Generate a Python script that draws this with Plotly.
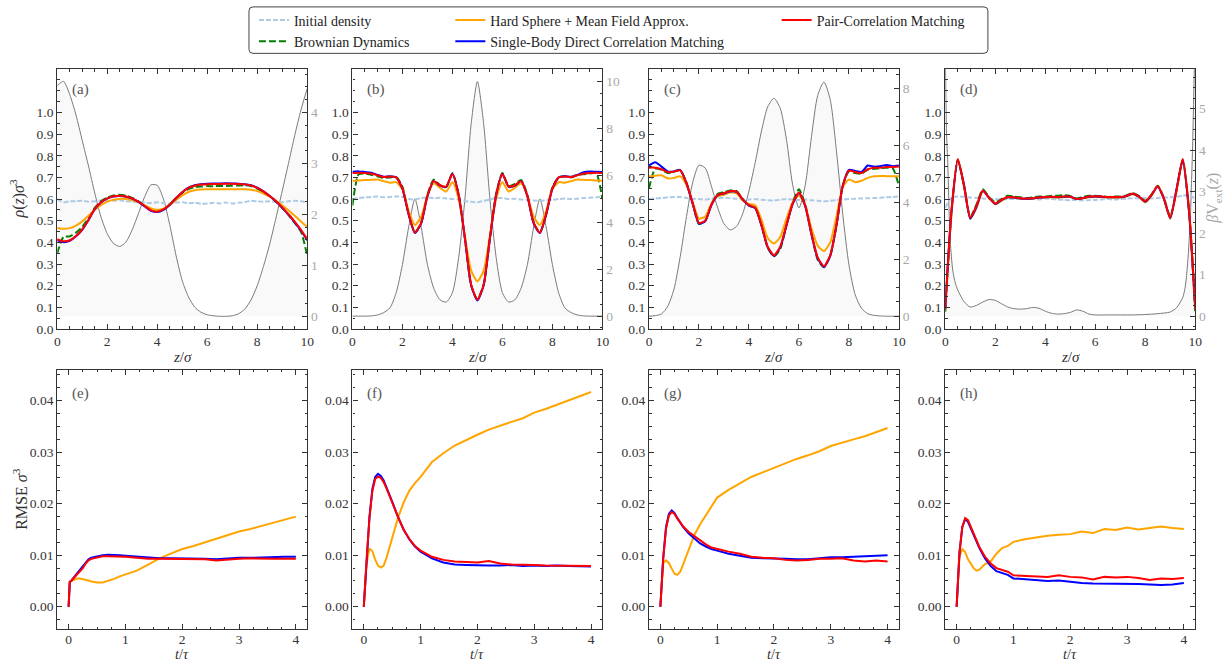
import plotly.graph_objects as go

W, H = 1229, 671

# ---------------- data: density profiles (z / sigma) ----------------
z = [0, 0.25, 0.5, 0.75, 1.0, 1.25, 1.5, 1.75, 2.0, 2.25,
     2.5, 2.75, 3.0, 3.25, 3.5, 3.75, 4.0, 4.25, 4.5, 4.75,
     5.0, 5.25, 5.5, 5.75, 6.0, 6.25, 6.5, 6.75, 7.0, 7.25,
     7.5, 7.75, 8.0, 8.25, 8.5, 8.75, 9.0, 9.25, 9.5, 9.75,
     10.0]

# panel (a)
a_init = [0.60, 0.585, 0.59, 0.59, 0.592, 0.588, 0.59, 0.593, 0.59, 0.592,
          0.595, 0.59, 0.588, 0.585, 0.583, 0.582, 0.585, 0.582, 0.58, 0.584,
          0.586, 0.581, 0.583, 0.579, 0.58, 0.583, 0.58, 0.584, 0.58, 0.583,
          0.586, 0.592, 0.59, 0.588, 0.59, 0.588, 0.585, 0.59, 0.592, 0.59,
          0.585]
a_bd = [0.35, 0.425, 0.428, 0.445, 0.472, 0.513, 0.56, 0.59, 0.607, 0.617,
        0.62, 0.616, 0.606, 0.59, 0.57, 0.55, 0.543, 0.553, 0.576, 0.604,
        0.628, 0.646, 0.655, 0.658, 0.66, 0.659, 0.661, 0.66, 0.662, 0.663,
        0.664, 0.66, 0.648, 0.632, 0.612, 0.588, 0.56, 0.527, 0.49, 0.45,
        0.34]
a_hs = [0.467, 0.463, 0.466, 0.478, 0.497, 0.523, 0.55, 0.572, 0.588, 0.597,
        0.601, 0.6, 0.595, 0.585, 0.571, 0.557, 0.551, 0.556, 0.572, 0.595,
        0.617, 0.633, 0.641, 0.644, 0.645, 0.645, 0.645, 0.645, 0.645, 0.645,
        0.645, 0.643, 0.637, 0.626, 0.611, 0.593, 0.572, 0.548, 0.523, 0.497,
        0.472]
a_sb = [0.41, 0.401, 0.407, 0.428, 0.458, 0.503, 0.553, 0.584, 0.602, 0.612,
        0.614, 0.611, 0.602, 0.587, 0.566, 0.546, 0.54, 0.55, 0.573, 0.604,
        0.632, 0.653, 0.664, 0.669, 0.671, 0.672, 0.672, 0.673, 0.672, 0.671,
        0.669, 0.664, 0.653, 0.636, 0.614, 0.589, 0.56, 0.528, 0.493, 0.455,
        0.41]
a_pc = [0.415, 0.405, 0.41, 0.43, 0.46, 0.505, 0.555, 0.585, 0.603, 0.613,
        0.615, 0.612, 0.603, 0.588, 0.568, 0.548, 0.542, 0.552, 0.575, 0.605,
        0.632, 0.652, 0.662, 0.667, 0.669, 0.67, 0.67, 0.671, 0.671, 0.67,
        0.668, 0.663, 0.652, 0.636, 0.614, 0.59, 0.562, 0.53, 0.496, 0.458,
        0.415]
a_vext = [4.53, 4.61, 4.35, 3.95, 3.45, 2.95, 2.42, 1.95, 1.62, 1.43,
          1.37, 1.46, 1.7, 2.02, 2.35, 2.58, 2.57, 2.3, 1.8, 1.2,
          0.7, 0.38, 0.18, 0.08, 0.03, 0.01, 0.0, 0.0, 0.01, 0.05,
          0.14, 0.32, 0.6, 0.98, 1.42, 1.93, 2.46, 3.0, 3.55, 4.05,
          4.47]

# panel (b)
b_init = [0.60, 0.605, 0.608, 0.61, 0.612, 0.608, 0.61, 0.612, 0.61, 0.6,
          0.598, 0.605, 0.608, 0.604, 0.606, 0.603, 0.60, 0.598, 0.59, 0.588,
          0.585, 0.592, 0.598, 0.605, 0.605, 0.6, 0.602, 0.598, 0.596, 0.594,
          0.592, 0.595, 0.597, 0.6, 0.603, 0.6, 0.602, 0.605, 0.606, 0.608,
          0.61]
b_bd = [0.57, 0.715, 0.718, 0.712, 0.705, 0.698, 0.70, 0.702, 0.657, 0.53,
        0.447, 0.49, 0.62, 0.69, 0.665, 0.655, 0.72, 0.622, 0.42, 0.2,
        0.138, 0.205, 0.42, 0.625, 0.72, 0.66, 0.67, 0.688, 0.62, 0.49,
        0.447, 0.53, 0.655, 0.70, 0.705, 0.70, 0.712, 0.715, 0.718, 0.72,
        0.6]
b_hs = [0.685, 0.686, 0.688, 0.689, 0.69, 0.683, 0.676, 0.678, 0.645, 0.545,
        0.48, 0.52, 0.615, 0.673, 0.652, 0.635, 0.678, 0.6, 0.43, 0.27,
        0.22, 0.27, 0.43, 0.6, 0.678, 0.635, 0.652, 0.673, 0.615, 0.52,
        0.48, 0.545, 0.645, 0.678, 0.676, 0.683, 0.69, 0.689, 0.688, 0.686,
        0.685]
b_sb = [0.726, 0.728, 0.725, 0.722, 0.712, 0.703, 0.705, 0.70, 0.648, 0.528,
        0.443, 0.488, 0.613, 0.683, 0.662, 0.656, 0.717, 0.619, 0.418, 0.202,
        0.132, 0.202, 0.418, 0.619, 0.717, 0.656, 0.662, 0.683, 0.613, 0.488,
        0.443, 0.528, 0.648, 0.70, 0.705, 0.703, 0.712, 0.724, 0.727, 0.726,
        0.725]
b_pc = [0.72, 0.722, 0.72, 0.718, 0.71, 0.702, 0.704, 0.70, 0.65, 0.53,
        0.445, 0.49, 0.615, 0.684, 0.664, 0.658, 0.716, 0.62, 0.42, 0.205,
        0.135, 0.205, 0.42, 0.62, 0.716, 0.658, 0.664, 0.684, 0.615, 0.49,
        0.445, 0.53, 0.65, 0.70, 0.704, 0.702, 0.71, 0.718, 0.72, 0.722,
        0.72]
b_vext = [0, 0, 0, 0.01, 0.05, 0.15, 0.35, 1.0, 2.2, 3.8,
          5.0, 3.8, 2.2, 1.2, 0.7, 0.6, 1.0, 2.5, 5.0, 8.2,
          10.0, 8.2, 5.0, 2.5, 1.0, 0.6, 0.7, 1.2, 2.2, 3.8,
          5.0, 3.8, 2.2, 1.0, 0.35, 0.15, 0.05, 0.01, 0, 0,
          0]

# panel (c)
c_init = [0.60, 0.603, 0.605, 0.608, 0.61, 0.61, 0.605, 0.602, 0.6, 0.598,
          0.602, 0.605, 0.606, 0.604, 0.602, 0.6, 0.598, 0.6, 0.597, 0.595,
          0.594, 0.597, 0.6, 0.598, 0.596, 0.598, 0.595, 0.592, 0.59, 0.592,
          0.595, 0.598, 0.6, 0.602, 0.603, 0.604, 0.605, 0.606, 0.608, 0.61,
          0.612]
c_bd = [0.65, 0.74, 0.735, 0.72, 0.727, 0.735, 0.675, 0.58, 0.485, 0.5,
        0.578, 0.625, 0.632, 0.64, 0.638, 0.6, 0.57, 0.56, 0.48, 0.375,
        0.335, 0.37, 0.48, 0.585, 0.645, 0.575, 0.44, 0.32, 0.285, 0.34,
        0.48, 0.66, 0.728, 0.72, 0.718, 0.735, 0.74, 0.742, 0.745, 0.742,
        0.66]
c_hs = [0.705, 0.708, 0.71, 0.696, 0.698, 0.705, 0.665, 0.585, 0.51, 0.52,
        0.58, 0.613, 0.62, 0.63, 0.627, 0.593, 0.578, 0.572, 0.505, 0.42,
        0.395, 0.425, 0.51, 0.585, 0.615, 0.57, 0.465, 0.385, 0.36, 0.4,
        0.52, 0.655, 0.69, 0.678, 0.685, 0.698, 0.705, 0.707, 0.706, 0.705,
        0.705]
c_sb = [0.755, 0.77, 0.75, 0.728, 0.728, 0.734, 0.673, 0.578, 0.487, 0.498,
        0.573, 0.618, 0.626, 0.635, 0.633, 0.598, 0.57, 0.558, 0.478, 0.377,
        0.337, 0.377, 0.478, 0.578, 0.628, 0.567, 0.437, 0.327, 0.287, 0.337,
        0.478, 0.66, 0.735, 0.73, 0.725, 0.755, 0.75, 0.752, 0.758, 0.752,
        0.755]
c_pc = [0.745, 0.745, 0.738, 0.724, 0.727, 0.733, 0.675, 0.58, 0.49, 0.5,
        0.575, 0.62, 0.628, 0.637, 0.635, 0.6, 0.572, 0.56, 0.48, 0.38,
        0.34, 0.38, 0.48, 0.58, 0.63, 0.57, 0.44, 0.33, 0.29, 0.34,
        0.48, 0.66, 0.732, 0.725, 0.72, 0.738, 0.745, 0.745, 0.748, 0.748,
        0.75]
c_vext = [0, 0.02, 0.08, 0.35, 0.95, 2.1, 3.5, 4.7, 5.3, 5.2,
          4.55, 3.8, 3.25, 3.03, 3.15, 3.6, 4.4, 5.4, 6.5, 7.35,
          7.65, 7.3, 6.2, 4.6, 3.8, 4.6, 6.3, 7.75, 8.22, 7.6,
          5.8, 3.6, 1.8, 0.75, 0.28, 0.09, 0.03, 0.01, 0, 0,
          0]

# panel (d)
d_init = [0.56, 0.608, 0.612, 0.61, 0.607, 0.605, 0.603, 0.6, 0.6, 0.598,
          0.6, 0.6, 0.602, 0.6, 0.6, 0.598, 0.603, 0.6, 0.598, 0.597,
          0.595, 0.596, 0.594, 0.595, 0.596, 0.598, 0.6, 0.598, 0.6, 0.602,
          0.604, 0.603, 0.605, 0.603, 0.605, 0.607, 0.608, 0.61, 0.615, 0.62,
          0.6]
d_bd = [0.08, 0.54, 0.78, 0.66, 0.52, 0.575, 0.645, 0.61, 0.585, 0.6,
        0.615, 0.612, 0.608, 0.605, 0.608, 0.612, 0.612, 0.615, 0.615, 0.618,
        0.615, 0.603, 0.61, 0.615, 0.615, 0.613, 0.61, 0.612, 0.612, 0.617,
        0.628, 0.615, 0.592, 0.62, 0.662, 0.605, 0.52, 0.64, 0.78, 0.55,
        0.08]
d_hs = [0.1, 0.53, 0.78, 0.67, 0.508, 0.558, 0.635, 0.61, 0.575, 0.592,
        0.607, 0.606, 0.602, 0.6, 0.602, 0.605, 0.607, 0.608, 0.607, 0.609,
        0.61, 0.6, 0.603, 0.608, 0.61, 0.609, 0.607, 0.606, 0.607, 0.612,
        0.622, 0.61, 0.585, 0.615, 0.658, 0.605, 0.508, 0.635, 0.78, 0.56,
        0.1]
d_sb = [0.1, 0.545, 0.78, 0.665, 0.51, 0.565, 0.638, 0.607, 0.578, 0.595,
        0.608, 0.607, 0.603, 0.602, 0.603, 0.607, 0.609, 0.61, 0.609, 0.611,
        0.611, 0.6, 0.604, 0.611, 0.612, 0.611, 0.609, 0.609, 0.609, 0.614,
        0.625, 0.611, 0.588, 0.618, 0.658, 0.6, 0.512, 0.645, 0.78, 0.545,
        0.1]
d_pc = [0.09, 0.55, 0.785, 0.66, 0.515, 0.57, 0.64, 0.605, 0.58, 0.597,
        0.61, 0.608, 0.604, 0.603, 0.604, 0.608, 0.61, 0.611, 0.61, 0.612,
        0.612, 0.6, 0.605, 0.612, 0.613, 0.612, 0.61, 0.61, 0.61, 0.615,
        0.626, 0.612, 0.59, 0.62, 0.66, 0.6, 0.515, 0.64, 0.785, 0.55,
        0.09]
zv_d = [0, 0.05, 0.1, 0.15, 0.2, 0.3, 0.4, 0.5, 0.75, 1.0,
        1.25, 1.5, 1.75, 2.0, 2.25, 2.5, 2.75, 3.0, 3.25, 3.5,
        3.75, 4.0, 4.25, 4.5, 4.75, 5.0, 5.25, 5.5, 5.75, 6.0,
        6.5, 7.0, 7.5, 8.0, 8.5, 9.0, 9.25, 9.5, 9.6, 9.7,
        9.8, 9.85, 9.9, 9.95, 10.0]
d_vext = [6.5, 4.4, 3.7, 2.6, 1.8, 1.1, 0.8, 0.63, 0.35, 0.22,
          0.26, 0.34, 0.4, 0.38, 0.3, 0.22, 0.18, 0.17, 0.18, 0.21,
          0.19, 0.12, 0.07, 0.05, 0.06, 0.09, 0.15, 0.12, 0.05, 0.03,
          0.03, 0.03, 0.03, 0.04, 0.06, 0.1, 0.2, 0.45, 0.7, 1.3,
          2.3, 3.2, 4.2, 5.6, 7.0]

# ---------------- data: RMSE vs time (t / tau) ----------------
t = [0, 0.02, 0.05, 0.1, 0.15, 0.2, 0.25, 0.3, 0.35, 0.4,
     0.5, 0.6, 0.7, 0.8, 0.9, 1.0, 1.2, 1.4, 1.6, 1.8,
     2.0, 2.2, 2.4, 2.6, 2.8, 3.0, 3.2, 3.4, 3.6, 3.8, 4.0]

e_hs = [0, 0.0048, 0.005, 0.0053, 0.0055, 0.0055, 0.0054, 0.0053, 0.0051, 0.0049,
        0.0047, 0.0047, 0.005, 0.0054, 0.0059, 0.0063, 0.007, 0.0082, 0.0094, 0.0103,
        0.0112, 0.0118, 0.0125, 0.0132, 0.0139, 0.0146, 0.0151, 0.0157, 0.0162, 0.0168, 0.0175]
e_sb = [0, 0.0048, 0.0051, 0.0058, 0.0064, 0.007, 0.0077, 0.0086, 0.0092, 0.0095,
        0.0098, 0.0100, 0.0101, 0.0101, 0.0100, 0.0099, 0.0097, 0.0095, 0.0094, 0.0094,
        0.0094, 0.0093, 0.0093, 0.0092, 0.0094, 0.0095, 0.0095, 0.0096, 0.0096, 0.0097, 0.0097]
e_pc = [0, 0.0048, 0.0051, 0.0057, 0.0063, 0.0068, 0.0075, 0.0084, 0.009, 0.0093,
        0.0096, 0.0098, 0.0098, 0.0098, 0.0098, 0.0097, 0.0095, 0.0093, 0.0093, 0.0093,
        0.0093, 0.0092, 0.0092, 0.009, 0.0092, 0.0093, 0.0094, 0.0093, 0.0093, 0.0093, 0.0093]

f_hs = [0, 0.004, 0.0085, 0.0113, 0.0108, 0.0092, 0.008, 0.0076, 0.008, 0.0095,
        0.0135, 0.0172, 0.0202, 0.0225, 0.024, 0.0252, 0.0281, 0.0298, 0.0313, 0.0324,
        0.0334, 0.0344, 0.0352, 0.0359, 0.0366, 0.0377, 0.0384, 0.0392, 0.0401, 0.0408, 0.0417]
f_sb = [0, 0.004, 0.0095, 0.0175, 0.0228, 0.0252, 0.0258, 0.0254, 0.0245, 0.0232,
        0.0204, 0.0175, 0.015, 0.0131, 0.0117, 0.0107, 0.0094, 0.0086, 0.0082, 0.0081,
        0.008, 0.008, 0.008, 0.0081, 0.0079, 0.008, 0.0079, 0.008, 0.0079, 0.0079, 0.0078]
f_pc = [0, 0.004, 0.0093, 0.0172, 0.0224, 0.0248, 0.0253, 0.025, 0.0242, 0.023,
        0.0202, 0.0175, 0.015, 0.0132, 0.0118, 0.0109, 0.0097, 0.0091, 0.0088, 0.0087,
        0.0086, 0.0089, 0.0084, 0.0082, 0.0082, 0.0081, 0.008, 0.008, 0.0079, 0.0079, 0.0079]

g_hs = [0, 0.004, 0.0085, 0.009, 0.0085, 0.0074, 0.0064, 0.0062, 0.0068, 0.0082,
        0.0112, 0.014, 0.016, 0.0178, 0.0195, 0.0212, 0.0227, 0.024, 0.0252, 0.0261,
        0.027, 0.0278, 0.0287, 0.0294, 0.0302, 0.0312, 0.0319, 0.0325, 0.0331, 0.0339, 0.0347]
g_sb = [0, 0.0045, 0.0095, 0.0155, 0.018, 0.0187, 0.0182, 0.0172, 0.0163, 0.0155,
        0.0142, 0.0132, 0.0123, 0.0117, 0.0112, 0.0109, 0.0103, 0.0099, 0.0095, 0.0094,
        0.0094, 0.0093, 0.0092, 0.0092, 0.0094, 0.0096, 0.0096, 0.0097, 0.0097, 0.0099, 0.01]
g_pc = [0, 0.0045, 0.0093, 0.0152, 0.0177, 0.0184, 0.018, 0.0171, 0.0163, 0.0156,
        0.0145, 0.0137, 0.0128, 0.0121, 0.0115, 0.0112, 0.0107, 0.0103, 0.0097, 0.0095,
        0.0094, 0.0091, 0.009, 0.0091, 0.0093, 0.0093, 0.0094, 0.009, 0.0088, 0.009, 0.0088]

h_hs = [0, 0.005, 0.0098, 0.0112, 0.0106, 0.0092, 0.0082, 0.0075, 0.007, 0.0072,
        0.0083, 0.0088, 0.0103, 0.0114, 0.0118, 0.0126, 0.0131, 0.0135, 0.0138, 0.014,
        0.0141, 0.0146, 0.0143, 0.0151, 0.0149, 0.0154, 0.015, 0.0153, 0.0156, 0.0153, 0.0151]
h_sb = [0, 0.005, 0.0105, 0.0155, 0.017, 0.0165, 0.0152, 0.0138, 0.0126, 0.0114,
        0.0094, 0.0079, 0.0069, 0.0066, 0.0062, 0.0055, 0.0053, 0.0051, 0.005, 0.0051,
        0.0048, 0.0046, 0.0045, 0.0045, 0.0045, 0.0045, 0.0044, 0.0043, 0.0042, 0.0043, 0.0046]
h_pc = [0, 0.005, 0.0105, 0.0155, 0.0172, 0.0168, 0.0155, 0.0141, 0.0128, 0.0116,
        0.0097, 0.0084, 0.0075, 0.0072, 0.0068, 0.0061, 0.006, 0.0059, 0.0058, 0.0061,
        0.0058, 0.0057, 0.0053, 0.0058, 0.0057, 0.0058, 0.0056, 0.0052, 0.0055, 0.0054, 0.0056]

# tick labels
rho_tickvals = [0.0, 0.1, 0.2, 0.3, 0.4, 0.5, 0.6, 0.7, 0.8, 0.9, 1.0]
rho_ticktext = ["0.0", "0.1", "0.2", "0.3", "0.4", "0.5", "0.6", "0.7", "0.8", "0.9", "1.0"]
rho_minorvals = [0.05, 0.15, 0.25, 0.35, 0.45, 0.55, 0.65, 0.75, 0.85, 0.95, 1.05, 1.1, 1.15]
rmse_tickvals = [0.0, 0.01, 0.02, 0.03, 0.04]
rmse_ticktext = ["0.00", "0.01", "0.02", "0.03", "0.04"]
panel_labels = ["(a)", "(b)", "(c)", "(d)", "(e)", "(f)", "(g)", "(h)"]
names = dict(init="Initial density", bd="Brownian Dynamics",
             hs="Hard Sphere + Mean Field Approx.",
             sb="Single-Body Direct Correlation Matching",
             pc="Pair-Correlation Matching")

# ---------------- styling ----------------
FONT = "Liberation Serif"
COL = dict(init="#aecbe6", bd="#008000", hs="#ffa500", sb="#0000ff",
           pc="#ff0000", v="#7a7a7a")
AX = "#333333"
TICKC = "#333333"
GRAYT = "#a8a8a8"


def px(x):
    return x / W


def py(y):
    return 1 - y / H


lefts = [54.7, 352.3, 651.3, 950.0]
PW = 252.0
TOP = (70.0, 333.0)
BOT = (374.3, 637.0)
v_ranges = [[-0.25, 4.85], [-0.55, 10.53], [-0.45, 8.67], [-0.31, 5.95]]
v_dtick = [1, 2, 2, 1]
v_minor = [0.25, 0.5, 0.5, 0.25]

top_sets = [
    (a_init, a_bd, a_hs, a_sb, a_pc, z, a_vext),
    (b_init, b_bd, b_hs, b_sb, b_pc, z, b_vext),
    (c_init, c_bd, c_hs, c_sb, c_pc, z, c_vext),
    (d_init, d_bd, d_hs, d_sb, d_pc, zv_d, d_vext),
]
bot_sets = [(e_hs, e_sb, e_pc), (f_hs, f_sb, f_pc), (g_hs, g_sb, g_pc), (h_hs, h_sb, h_pc)]


def aid(prefix, n):
    return prefix if n == 1 else f"{prefix}{n}"


fig = go.Figure()
layout = {}
tickfont = dict(family=FONT, size=13.5, color=TICKC)

for i, (ini, bd, hs, sb, pc, zv, vext) in enumerate(top_sets):
    xn, vn, dn = i + 1, 2 * i + 1, 2 * i + 2
    xr, vr, dr = aid("x", xn), aid("y", vn), aid("y", dn)
    fig.add_trace(go.Scatter(x=zv, y=vext, xaxis=xr, yaxis=vr, mode="lines",
                             line=dict(color=COL["v"], width=1, shape="spline", smoothing=0.7),
                             fill="tozeroy", fillcolor="rgba(128,128,128,0.05)",
                             showlegend=False, hoverinfo="skip"))
    series = [("init", ini, "5px,2px", "legend"), ("bd", bd, "7px,3px", "legend"),
              ("hs", hs, "solid", "legend2"), ("sb", sb, "solid", "legend2"),
              ("pc", pc, "solid", "legend3")]
    for key, vals, dash, lg in series:
        fig.add_trace(go.Scatter(x=z, y=vals, xaxis=xr, yaxis=dr, mode="lines",
                                 name=names[key], legend=lg, showlegend=(i == 0),
                                 line=dict(color=COL[key], width=2, dash=dash,
                                           shape="spline", smoothing=0.6)))
    L = lefts[i]
    layout[aid("xaxis", xn)] = dict(
        domain=[px(L), px(L + PW)], range=[0, 10], anchor=vr, dtick=2, tick0=0,
        ticks="inside", ticklen=5, tickcolor=AX, showline=True, linecolor=AX, linewidth=1.2,
        mirror="ticks", showgrid=False, zeroline=False, tickfont=tickfont,
        minor=dict(ticks="inside", ticklen=2.5, dtick=0.5, tickcolor=AX, showgrid=False))
    layout[aid("yaxis", vn)] = dict(
        domain=[py(TOP[1]), py(TOP[0])], range=v_ranges[i], anchor=xr, side="right",
        dtick=v_dtick[i], tick0=0, ticks="inside", ticklen=5, tickcolor=AX,
        showline=True, linecolor=AX, linewidth=1.2, showgrid=False, zeroline=False,
        tickfont=dict(family=FONT, size=13.5, color=GRAYT),
        minor=dict(ticks="inside", ticklen=2.5, dtick=v_minor[i], tickcolor=AX, showgrid=False))
    layout[aid("yaxis", dn)] = dict(
        overlaying=vr, anchor=xr, side="left", range=[0, 1.2],
        tickmode="array", tickvals=rho_tickvals, ticktext=rho_ticktext,
        ticks="inside", ticklen=5, tickcolor=AX, showline=True, linecolor=AX, linewidth=1.2,
        showgrid=False, zeroline=False, tickfont=tickfont,
        minor=dict(ticks="inside", ticklen=2.5, tickmode="array",
                   tickvals=rho_minorvals, tickcolor=AX, showgrid=False))

for i, (hs, sb, pc) in enumerate(bot_sets):
    xn, yn = 5 + i, 9 + i
    xr, yr = aid("x", xn), aid("y", yn)
    for key, vals in (("hs", hs), ("sb", sb), ("pc", pc)):
        fig.add_trace(go.Scatter(x=t, y=vals, xaxis=xr, yaxis=yr, mode="lines",
                                 name=names[key], showlegend=False,
                                 line=dict(color=COL[key], width=2)))
    L = lefts[i]
    layout[aid("xaxis", xn)] = dict(
        domain=[px(L), px(L + PW)], range=[-0.2, 4.2], anchor=yr, dtick=1, tick0=0,
        ticks="inside", ticklen=5, tickcolor=AX, showline=True, linecolor=AX, linewidth=1.2,
        mirror="ticks", showgrid=False, zeroline=False, tickfont=tickfont,
        ticklabelstandoff=-3,
        minor=dict(ticks="inside", ticklen=2.5, dtick=0.25, tickcolor=AX, showgrid=False))
    layout[aid("yaxis", yn)] = dict(
        domain=[py(BOT[1]), py(BOT[0])], range=[-0.0044, 0.046], anchor=xr,
        tickmode="array", tickvals=rmse_tickvals, ticktext=rmse_ticktext,
        ticks="inside", ticklen=5, tickcolor=AX, showline=True, linecolor=AX, linewidth=1.2,
        mirror="ticks", showgrid=False, zeroline=False, tickfont=tickfont,
        minor=dict(ticks="inside", ticklen=2.5, tick0=0, dtick=0.0025, tickcolor=AX, showgrid=False))

ann = []
for i in range(4):
    L = lefts[i]
    ann.append(dict(x=px(L + 13), y=py(TOP[0] + 21), text=panel_labels[i]))
    ann.append(dict(x=px(L + 13), y=py(BOT[0] + 24), text=panel_labels[4 + i]))
for a in ann:
    a.update(xref="paper", yref="paper", xanchor="left", yanchor="middle", showarrow=False,
             font=dict(family=FONT, size=15, color="#555555"))
for i in range(4):
    cx = px(lefts[i] + PW / 2)
    ann.append(dict(x=cx, y=py(361), text="<i>z</i>/<i>σ</i>", xref="paper", yref="paper",
                    showarrow=False, xanchor="center", yanchor="middle",
                    font=dict(family=FONT, size=15, color="#333333")))
    ann.append(dict(x=cx, y=py(671), text="<i>t</i>/<i>τ</i>", xref="paper", yref="paper",
                    showarrow=False, xanchor="center", yanchor="bottom", yshift=-1,
                    font=dict(family=FONT, size=14.5, color="#333333")))
ann.append(dict(x=px(15), y=py(201), text="<i>ρ</i>(<i>z</i>)<i>σ</i><sup>3</sup>",
                textangle=-90, xref="paper", yref="paper", showarrow=False,
                xanchor="center", yanchor="middle",
                font=dict(family=FONT, size=16, color="#333333")))
ann.append(dict(x=px(17), y=py(505), text="RMSE <i>σ</i><sup>3</sup>",
                textangle=-90, xref="paper", yref="paper", showarrow=False,
                xanchor="center", yanchor="middle",
                font=dict(family=FONT, size=16, color="#333333")))
ann.append(dict(x=px(1221), y=py(201), text="<i>β</i>V<sub>ext</sub>(<i>z</i>)",
                textangle=-90, xref="paper", yref="paper", showarrow=False,
                xanchor="center", yanchor="middle",
                font=dict(family=FONT, size=16, color=GRAYT)))

legfont = dict(family=FONT, size=14, color="#222222")
leg_common = dict(orientation="v", xanchor="left", yanchor="top", bgcolor="rgba(0,0,0,0)",
                  borderwidth=0, font=legfont, tracegroupgap=0)

# rounded legend frame
x0, x1, y0, y1, r = 248, 993, 7, 54, 4
path = (f"M {px(x0 + r)},{py(y0)} L {px(x1 - r)},{py(y0)} Q {px(x1)},{py(y0)} {px(x1)},{py(y0 + r)} "
        f"L {px(x1)},{py(y1 - r)} Q {px(x1)},{py(y1)} {px(x1 - r)},{py(y1)} "
        f"L {px(x0 + r)},{py(y1)} Q {px(x0)},{py(y1)} {px(x0)},{py(y1 - r)} "
        f"L {px(x0)},{py(y0 + r)} Q {px(x0)},{py(y0)} {px(x0 + r)},{py(y0)} Z")

fig.update_layout(
    width=W, height=H, margin=dict(l=0, r=0, t=0, b=0),
    paper_bgcolor="white", plot_bgcolor="white",
    font=dict(family=FONT, size=13.5, color="#333333"),
    annotations=ann,
    shapes=[dict(type="path", path=path, xref="paper", yref="paper",
                 line=dict(color="#444444", width=1), fillcolor="rgba(0,0,0,0)")],
    legend=dict(x=px(253), y=py(4.5), **leg_common),
    legend2=dict(x=px(451), y=py(4.5), **leg_common),
    legend3=dict(x=px(780), y=py(4.5), **leg_common),
    showlegend=True,
    **layout,
)

fig.write_html("out.html")
